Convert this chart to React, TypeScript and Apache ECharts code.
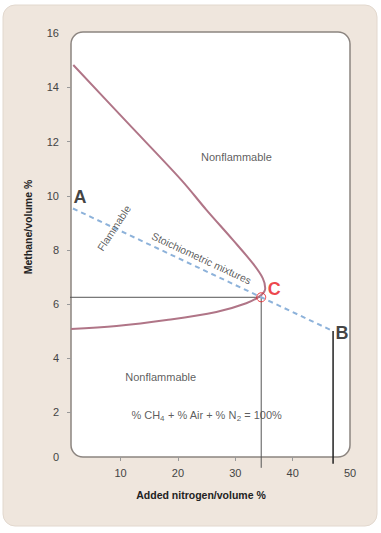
import React, { useEffect, useRef } from "react";
import * as echarts from "echarts";

// ---- data ----
const xTickValues = [10, 20, 30, 40];
const xLabelValues = [10, 20, 30, 40, 50];
const yTickValues = [2, 4, 6, 8, 10, 12, 14];
const yLabelValues = [0, 2, 4, 6, 8, 10, 12, 14, 16];
const xMin = 1.36;
const xMax = 50;
const yMin = 0.35;
const yMax = 16.05;

// flammability envelope (upper limit -> nose -> lower limit)
const envelopeX = [1.76, 11.2, 20.61, 24.96, 29.58, 33.06, 34.8, 35.22, 34.52, 31.91, 26.7, 18.0, 9.3, 1.36];
const envelopeY = [14.83, 12.7, 10.58, 9.48, 8.37, 7.5, 6.95, 6.58, 6.33, 6.03, 5.71, 5.41, 5.19, 5.08];

// stoichiometric line A -> B
const stoichX = [1.7, 47.05];
const stoichY = [9.53, 5.0];

// named points
const pointNames = ["A", "B", "C"];
const pointX = [1.7, 47.05, 34.52];
const pointY = [9.53, 5.0, 6.25];
const pointColors = ["#111111", "#111111", "#e8141c"];

// annotation texts
const noteTexts = ["Nonflammable", "Nonflammable", "Stoichiometric mixtures", "Flammable"];
const noteX = [30.2, 17.0, 24.1, 8.83];
const noteY = [11.43, 3.29, 7.68, 8.81];
const noteRotate = [0, 0, -25, 57];

const equationX = 25.0;
const equationY = 1.9;

const FONT = "'Liberation Sans', Arial, sans-serif";

export default function App() {
  const ref = useRef<HTMLDivElement>(null);

  useEffect(() => {
    if (!ref.current) return;
    const chart = echarts.init(ref.current, null, { renderer: "svg" });

    const envelope = envelopeX.map((x, i) => [x, envelopeY[i]]);
    const stoich = stoichX.map((x, i) => [x, stoichY[i]]);
    const cIdx = 2;
    const bIdx = 1;
    const cGuide = [
      [0.2, pointY[cIdx]],
      [pointX[cIdx], pointY[cIdx]],
      [pointX[cIdx], -0.05],
    ];
    const bGuide = [
      [pointX[bIdx], pointY[bIdx]],
      [pointX[bIdx], 0.1],
    ];
    const letterOffsets = [[7, -11], [9, 2], [13, -8]];

    const option: any = {
      animation: false,
      backgroundColor: "#ffffff",
      textStyle: { fontFamily: FONT },
      graphic: {
        elements: [
          {
            type: "rect",
            z: -20,
            shape: { x: 3, y: 5, width: 374, height: 521, r: 12 },
            style: { fill: "#efe6dd", stroke: "#e2d8ce", lineWidth: 1 },
            silent: true,
          },
          {
            type: "rect",
            z: -10,
            shape: { x: 71, y: 32, width: 279, height: 425, r: 12 },
            style: { fill: "#ffffff", stroke: "#8c8580", lineWidth: 1.5 },
            silent: true,
          },
        ],
      },
      grid: { left: 71, right: 31, top: 32, bottom: 76, show: false },
      xAxis: {
        type: "value",
        min: xMin,
        max: xMax,
        name: "Added nitrogen/volume %",
        nameLocation: "middle",
        nameGap: 32,
        nameTextStyle: {
          fontFamily: FONT,
          fontSize: 10.5,
          fontWeight: "bold",
          color: "#222",
          padding: [0, 19, 0, 0],
        },
        axisLine: { show: false },
        splitLine: { show: false },
        axisTick: {
          show: true,
          customValues: xTickValues,
          length: 4,
          lineStyle: { color: "#999" },
        },
        axisLabel: {
          customValues: xLabelValues,
          margin: 10,
          fontSize: 11,
          color: "#444",
          fontFamily: FONT,
        },
      },
      yAxis: {
        type: "value",
        min: yMin,
        max: yMax,
        name: "Methane/volume %",
        nameLocation: "middle",
        nameGap: 38,
        nameTextStyle: {
          fontFamily: FONT,
          fontSize: 10.5,
          fontWeight: "bold",
          color: "#222",
          padding: [0, 0, 0, 35],
        },
        axisLine: { show: false },
        splitLine: { show: false },
        axisTick: {
          show: true,
          customValues: yTickValues,
          length: 4,
          lineStyle: { color: "#999" },
        },
        axisLabel: {
          customValues: yLabelValues.map((v) => Math.max(v, yMin)),
          formatter: (v: number) => String(Math.round(v)),
          margin: 12,
          fontSize: 11,
          color: "#444",
          fontFamily: FONT,
        },
      },
      series: [
        {
          type: "line",
          data: envelope,
          smooth: 0.35,
          symbol: "none",
          lineStyle: { color: "#b07587", width: 2 },
          z: 3,
        },
        {
          type: "line",
          data: stoich,
          symbol: "none",
          lineStyle: { color: "#8db2da", width: 2, type: [5, 4] },
          z: 3,
        },
        {
          type: "line",
          data: cGuide,
          symbol: "none",
          clip: false,
          lineStyle: { color: "#555555", width: 1 },
          z: 2,
        },
        {
          type: "line",
          data: bGuide,
          symbol: "none",
          clip: false,
          lineStyle: { color: "#222222", width: 1.5 },
          z: 2,
        },
        {
          type: "scatter",
          data: [[pointX[cIdx], pointY[cIdx]]],
          symbol: "circle",
          symbolSize: 9,
          itemStyle: { color: "rgba(255,255,255,0)", borderColor: "#e8141c", borderWidth: 1 },
          z: 5,
        },
        {
          type: "scatter",
          symbolSize: 0,
          z: 6,
          data: pointNames.map((n, i) => ({
            value: [pointX[i], pointY[i]],
            label: {
              show: true,
              formatter: n,
              position: "inside",
              offset: letterOffsets[i],
              fontFamily: FONT,
              fontSize: 18,
              fontWeight: "bold",
              color: pointColors[i],
            },
          })),
        },
        {
          type: "scatter",
          symbolSize: 0,
          z: 6,
          data: noteTexts.map((t, i) => ({
            value: [noteX[i], noteY[i]],
            label: {
              show: true,
              formatter: t,
              position: "inside",
              rotate: noteRotate[i],
              fontFamily: FONT,
              fontSize: i < 2 ? 11 : 10.5,
              color: "#333",
            },
          })),
        },
        {
          type: "scatter",
          symbolSize: 0,
          z: 6,
          data: [
            {
              value: [equationX, equationY],
              label: {
                show: true,
                position: "inside",
                formatter: "% CH{sub|4} + % Air + % N{sub|2} = 100%",
                fontFamily: FONT,
                fontSize: 11,
                color: "#333",
                rich: {
                  sub: {
                    fontFamily: FONT,
                    fontSize: 8,
                    color: "#333",
                    verticalAlign: "top",
                    padding: [7, 0, 0, 0],
                  },
                },
              },
            },
          ],
        },
      ],
    };

    chart.setOption(option);
    return () => chart.dispose();
  }, []);

  return (
    <div
      ref={ref}
      style={{ position: "absolute", left: 0, top: 0, width: 381, height: 533 }}
    />
  );
}
